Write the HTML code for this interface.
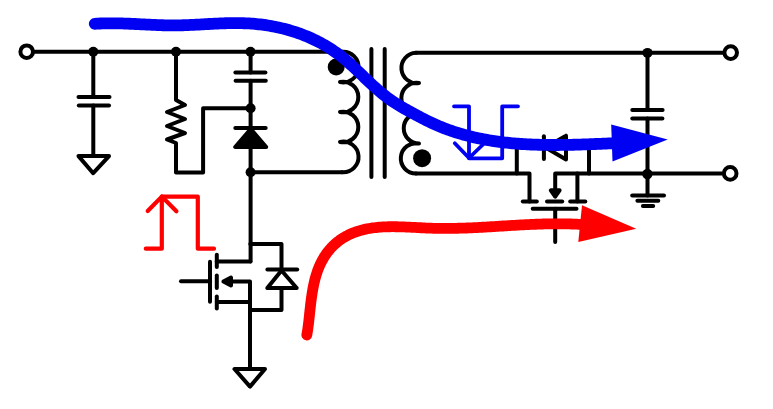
<!DOCTYPE html>
<html><head><meta charset="utf-8"><style>
html,body{margin:0;padding:0;background:#fff;}
svg{display:block;}
</style></head><body>
<svg width="773" height="409" viewBox="0 0 773 409">
<rect width="773" height="409" fill="#fff"/>
<g fill="none" stroke="#000" stroke-width="4.0" stroke-linecap="round" stroke-linejoin="round">
<polyline points="33,51.8 342,51.8"/>
<circle cx="26.7" cy="51.7" r="6.3" fill="#fff"/>
<circle cx="93.3" cy="51.8" r="5" fill="#000" stroke="none"/>
<circle cx="176" cy="51.8" r="5" fill="#000" stroke="none"/>
<circle cx="250.5" cy="51.8" r="5" fill="#000" stroke="none"/>
<polyline points="93.3,51.8 93.3,97.1"/>
<polyline points="78.5,97.1 109.5,97.1"/>
<polyline points="78.8,105.6 109,105.6"/>
<polyline points="93.3,105.6 93.3,156"/>
<polyline points="78.5,156.1 109,156.1 93.2,173.2 78.5,156.1"/>
<polyline points="176,51.8 176,100 185,105 167,112 185,119 167,126 185,133 167,139.5 176,143 176,172.4 203.1,172.4 203.1,108.2 250.6,108.2"/>
<polyline points="250.6,51.8 250.6,72.4"/>
<polyline points="235.4,72.4 265.4,72.4"/>
<polyline points="235.6,80.7 265.8,80.7"/>
<polyline points="250.6,80.7 250.6,128"/>
<circle cx="250.6" cy="108.2" r="5" fill="#000" stroke="none"/>
<polyline points="235.3,128.1 265.7,128.1"/>
<polygon points="235.2,147 266.2,147 250.7,129" fill="#000"/>
<polyline points="250.6,147 250.6,261.4"/>
<circle cx="250.6" cy="172.2" r="5" fill="#000" stroke="none"/>
<polyline points="250.6,172.2 342,172.2"/>
<path d="M342,51.8 A15.3,15.3 0 1 1 340,82 A15.3,15.3 0 1 1 340,112 A15.3,15.3 0 1 1 340,142 A15.3,15.3 0 1 1 342,172.2" fill="none"/>
<circle cx="336.2" cy="67.1" r="8.5" fill="#000" stroke="none"/>
<polyline points="371.4,49 371.4,177"/>
<polyline points="384.7,49 384.7,177"/>
<path d="M416,52.8 A15.2,15.2 0 1 0 419,83 A15.2,15.2 0 1 0 419,113 A15.2,15.2 0 1 0 419,143.5 A15.2,15.2 0 1 0 416,173.6" fill="none"/>
<circle cx="422.1" cy="158.2" r="9" fill="#000" stroke="none"/>
<polyline points="416,52.8 723.5,52.8"/>
<circle cx="647.5" cy="52.9" r="5" fill="#000" stroke="none"/>
<circle cx="730.7" cy="52.6" r="6.3" fill="#fff"/>
<polyline points="647.5,52.9 647.5,110"/>
<polyline points="632.3,110 662.6,110"/>
<polyline points="632.3,118.5 662.4,118.5"/>
<polyline points="647.5,118.5 647.5,195.6"/>
<polyline points="632.2,195.6 664,195.6"/>
<polyline points="637.4,200.8 658.3,200.8"/>
<polyline points="642.9,206 653.2,206"/>
<polyline points="416,173.6 529.5,173.6 529.5,201.5"/>
<polyline points="555.2,196 555.2,173.6 722.5,173.6"/>
<circle cx="647.4" cy="174" r="5.2" fill="#000" stroke="none"/>
<circle cx="730.2" cy="173.4" r="6.3" fill="#fff"/>
<polyline points="516.8,173.6 516.8,143.5 544,143.5"/>
<polyline points="566,143.5 589,143.5 589,173.6"/>
<polyline points="543.9,136.2 543.9,159"/>
<polyline points="566,135.8 566,159.5 545.5,147.6 566,135.8"/>
<polyline points="577.4,173.6 577.4,201.5"/>
<polyline points="522.8,201.5 536.8,201.5"/>
<polyline points="547,201.5 562.2,201.5"/>
<polyline points="570.2,201.5 585.3,201.5"/>
<polyline points="532.7,208.7 576.5,208.7"/>
<polyline points="555.2,208.7 555.2,242"/>
<polygon points="550.8,190.3 559.6,190.3 555.2,196.6" fill="#000"/>
<polyline points="181,281.3 210,281.3"/>
<polyline points="210,261.8 210,301.7"/>
<polyline points="216.8,254.8 216.8,266.9"/>
<polyline points="216.8,275.5 216.8,288"/>
<polyline points="216.8,296.5 216.8,308.5"/>
<polyline points="216.8,261.4 250.3,261.4"/>
<polyline points="228,281.6 250,281.6 250,369"/>
<polyline points="216.8,302 250,302"/>
<polygon points="223.4,281.6 231,277.6 231,285.6" fill="#000"/>
<polyline points="250.3,244 281.5,244 281.5,269.6"/>
<polyline points="281.5,288 281.5,309.9 250.3,309.9"/>
<polyline points="267.4,269.6 297.2,269.6"/>
<polyline points="267.3,288 296.7,288 281.5,270.5 267.3,288"/>
<polyline points="234.5,369 265,369 250,386.6 234.5,369"/>
</g>
<g fill="none" stroke="#0000f2" stroke-width="3.8" stroke-linecap="round" stroke-linejoin="round">
<polyline points="454,106.3 469,106.3 469,158.3 502.2,158.3 502.2,106.3 518,106.3"/>
<polyline points="454.8,143.3 469,158 483,144.5"/>
</g>
<g fill="none" stroke="#ff0000" stroke-width="4.2" stroke-linecap="round" stroke-linejoin="round">
<polyline points="145.8,248.7 161.8,248.7 161.8,196.6 197.8,196.6 197.8,248.7 214,248.7"/>
<polyline points="147.7,211 161.8,196.6 176.4,211.2"/>
</g>
<path d="M94.76,23.81 L96.61,23.69 L98.46,23.59 L100.31,23.51 L102.16,23.44 L104.00,23.38 L105.85,23.34 L107.69,23.31 L109.54,23.30 L111.38,23.29 L113.22,23.30 L115.06,23.31 L116.90,23.34 L118.74,23.38 L120.58,23.42 L122.42,23.47 L124.26,23.53 L126.09,23.60 L127.93,23.67 L129.76,23.74 L131.60,23.83 L133.43,23.91 L135.27,24.00 L137.10,24.09 L138.93,24.18 L140.77,24.27 L142.60,24.37 L144.43,24.46 L146.27,24.55 L148.10,24.64 L149.93,24.73 L151.77,24.82 L153.60,24.90 L155.43,24.98 L157.27,25.06 L159.10,25.13 L160.93,25.19 L162.77,25.24 L164.60,25.29 L166.44,25.33 L168.27,25.37 L170.11,25.39 L171.94,25.40 L173.78,25.40 L175.62,25.39 L177.46,25.37 L179.30,25.34 L181.14,25.30 L182.98,25.25 L184.82,25.20 L186.66,25.13 L188.50,25.06 L190.34,24.98 L192.18,24.89 L194.03,24.81 L195.87,24.71 L197.71,24.62 L199.56,24.52 L201.40,24.42 L203.25,24.32 L205.09,24.21 L206.94,24.11 L208.78,24.01 L210.63,23.91 L212.47,23.81 L214.32,23.72 L216.17,23.63 L218.01,23.54 L219.86,23.46 L221.70,23.39 L223.55,23.32 L225.39,23.26 L227.24,23.21 L229.09,23.17 L230.93,23.13 L232.78,23.11 L234.62,23.10 L236.47,23.10 L238.31,23.11 L240.15,23.14 L242.00,23.17 L243.84,23.23 L245.68,23.30 L247.53,23.38 L249.37,23.48 L251.21,23.60 L253.05,23.74 L254.89,23.89 L256.73,24.07 L258.57,24.26 L260.41,24.47 L262.24,24.69 L264.07,24.94 L265.90,25.20 L267.73,25.48 L269.55,25.78 L271.37,26.09 L273.19,26.43 L275.00,26.78 L276.81,27.16 L278.62,27.55 L280.42,27.95 L282.21,28.38 L284.00,28.83 L285.78,29.29 L287.56,29.77 L289.33,30.28 L291.10,30.80 L292.86,31.34 L294.61,31.89 L296.36,32.47 L298.10,33.07 L299.83,33.68 L301.55,34.31 L303.26,34.97 L304.97,35.64 L306.67,36.33 L308.36,37.04 L310.03,37.77 L311.70,38.51 L313.36,39.28 L315.01,40.07 L316.65,40.87 L318.28,41.70 L319.90,42.55 L321.51,43.41 L323.10,44.29 L324.69,45.20 L326.26,46.12 L327.82,47.06 L329.37,48.03 L330.90,49.01 L332.42,50.01 L333.93,51.03 L335.42,52.08 L336.91,53.14 L338.37,54.22 L339.82,55.32 L341.26,56.44 L342.69,57.58 L344.10,58.74 L345.50,59.92 L346.89,61.10 L348.27,62.31 L349.64,63.52 L351.00,64.75 L352.36,65.99 L353.71,67.23 L355.05,68.49 L356.39,69.75 L357.72,71.01 L359.05,72.29 L360.38,73.56 L361.71,74.84 L363.03,76.11 L364.36,77.39 L365.69,78.67 L367.02,79.94 L368.35,81.21 L369.69,82.48 L371.03,83.73 L372.38,84.99 L373.73,86.23 L375.09,87.46 L376.46,88.69 L377.84,89.90 L379.23,91.10 L380.63,92.28 L382.03,93.45 L383.46,94.60 L384.89,95.73 L386.34,96.85 L387.81,97.94 L389.29,99.02 L390.78,100.07 L392.29,101.11 L393.81,102.12 L395.35,103.12 L396.90,104.10 L398.46,105.07 L400.03,106.02 L401.61,106.96 L403.20,107.89 L404.80,108.81 L406.41,109.72 L408.02,110.62 L409.64,111.52 L411.26,112.40 L412.89,113.28 L414.53,114.16 L416.16,115.04 L417.80,115.91 L419.45,116.77 L421.09,117.63 L422.74,118.48 L424.40,119.32 L426.06,120.16 L427.72,120.98 L429.39,121.79 L431.06,122.59 L432.74,123.37 L434.42,124.14 L436.11,124.89 L437.80,125.63 L439.49,126.35 L441.19,127.05 L442.90,127.73 L444.61,128.40 L446.33,129.05 L448.05,129.69 L449.77,130.31 L451.50,130.91 L453.24,131.50 L454.98,132.07 L456.72,132.63 L458.47,133.17 L460.22,133.69 L461.97,134.21 L463.73,134.70 L465.49,135.19 L467.26,135.66 L469.03,136.11 L470.80,136.55 L472.58,136.98 L474.36,137.39 L476.14,137.79 L477.93,138.18 L479.72,138.55 L481.52,138.91 L483.31,139.26 L485.11,139.60 L486.92,139.92 L488.72,140.23 L490.53,140.53 L492.34,140.82 L494.15,141.10 L495.97,141.37 L497.79,141.62 L499.61,141.86 L501.43,142.10 L503.26,142.32 L505.08,142.53 L506.91,142.73 L508.74,142.92 L510.58,143.11 L512.41,143.28 L514.25,143.44 L516.09,143.59 L517.93,143.74 L519.77,143.87 L521.61,144.00 L523.45,144.12 L525.30,144.23 L527.14,144.33 L528.99,144.42 L530.84,144.51 L532.69,144.59 L534.54,144.66 L536.39,144.72 L538.24,144.77 L540.09,144.82 L541.95,144.87 L543.80,144.90 L545.65,144.93 L547.51,144.96 L549.36,144.97 L551.21,144.98 L553.07,144.99 L554.92,144.99 L556.77,144.99 L558.63,144.98 L560.48,144.96 L562.33,144.94 L564.19,144.92 L566.04,144.89 L567.89,144.86 L569.74,144.82 L571.59,144.78 L573.44,144.74 L575.29,144.69 L577.13,144.64 L578.98,144.59 L580.82,144.53 L582.67,144.47 L584.51,144.41 L586.35,144.35 L588.19,144.28 L590.03,144.21 L591.86,144.14 L593.70,144.07 L595.53,144.00 L597.36,143.92 L599.19,143.85 L601.02,143.77 L602.84,143.70 L604.66,143.62 L606.48,143.54 L608.30,143.47 L610.12,143.39 L611.93,143.31" fill="none" stroke="#0000f2" stroke-width="11.8" stroke-linecap="round" stroke-linejoin="round"/>
<polygon points="611.2,124.4 667.7,139.5 612.5,161.4" fill="#0000f2"/>
<path d="M306.80,335.01 L307.08,333.47 L307.34,331.90 L307.59,330.31 L307.83,328.70 L308.05,327.07 L308.27,325.42 L308.48,323.75 L308.68,322.06 L308.88,320.36 L309.07,318.64 L309.26,316.91 L309.45,315.16 L309.63,313.41 L309.82,311.64 L310.01,309.86 L310.21,308.08 L310.41,306.29 L310.62,304.49 L310.83,302.69 L311.06,300.89 L311.29,299.08 L311.54,297.28 L311.80,295.47 L312.07,293.67 L312.36,291.86 L312.67,290.06 L312.99,288.27 L313.34,286.48 L313.70,284.70 L314.09,282.93 L314.50,281.17 L314.94,279.42 L315.40,277.68 L315.89,275.95 L316.42,274.24 L316.97,272.54 L317.55,270.86 L318.16,269.20 L318.81,267.56 L319.50,265.93 L320.22,264.33 L320.98,262.75 L321.78,261.20 L322.61,259.67 L323.49,258.16 L324.40,256.68 L325.34,255.23 L326.32,253.81 L327.34,252.42 L328.39,251.07 L329.48,249.74 L330.60,248.45 L331.76,247.19 L332.95,245.97 L334.17,244.79 L335.42,243.65 L336.71,242.54 L338.03,241.48 L339.38,240.46 L340.76,239.47 L342.17,238.53 L343.61,237.64 L345.07,236.78 L346.55,235.96 L348.06,235.18 L349.59,234.44 L351.13,233.74 L352.70,233.08 L354.28,232.46 L355.87,231.88 L357.48,231.34 L359.10,230.83 L360.73,230.36 L362.37,229.92 L364.03,229.51 L365.70,229.14 L367.38,228.80 L369.06,228.49 L370.76,228.21 L372.47,227.96 L374.19,227.73 L375.92,227.53 L377.65,227.36 L379.39,227.21 L381.14,227.08 L382.90,226.97 L384.67,226.88 L386.44,226.82 L388.21,226.77 L389.99,226.74 L391.78,226.72 L393.57,226.72 L395.37,226.73 L397.17,226.76 L398.97,226.79 L400.78,226.84 L402.59,226.90 L404.40,226.97 L406.22,227.04 L408.03,227.12 L409.85,227.20 L411.67,227.29 L413.48,227.38 L415.30,227.48 L417.12,227.57 L418.93,227.66 L420.75,227.76 L422.56,227.85 L424.37,227.93 L426.18,228.02 L427.98,228.09 L429.78,228.16 L431.58,228.22 L433.37,228.28 L435.16,228.32 L436.95,228.36 L438.73,228.39 L440.51,228.41 L442.28,228.42 L444.05,228.43 L445.82,228.43 L447.59,228.43 L449.35,228.42 L451.11,228.40 L452.87,228.38 L454.62,228.35 L456.37,228.31 L458.12,228.27 L459.87,228.22 L461.61,228.17 L463.36,228.12 L465.10,228.06 L466.83,228.00 L468.57,227.93 L470.30,227.85 L472.04,227.78 L473.77,227.70 L475.50,227.62 L477.23,227.53 L478.95,227.44 L480.68,227.35 L482.40,227.26 L484.13,227.16 L485.85,227.06 L487.57,226.96 L489.29,226.86 L491.01,226.76 L492.74,226.65 L494.46,226.55 L496.18,226.44 L497.90,226.33 L499.62,226.23 L501.34,226.12 L503.05,226.01 L504.78,225.90 L506.50,225.80 L508.22,225.69 L509.94,225.59 L511.66,225.48 L513.38,225.38 L515.11,225.28 L516.83,225.18 L518.56,225.08 L520.29,224.98 L522.01,224.89 L523.74,224.79 L525.48,224.71 L527.21,224.62 L528.94,224.54 L530.68,224.46 L532.42,224.38 L534.16,224.31 L535.90,224.24 L537.64,224.17 L539.39,224.11 L541.14,224.06 L542.89,224.01 L544.65,223.96 L546.40,223.92 L548.16,223.88 L549.93,223.85 L551.69,223.83 L553.46,223.81 L555.23,223.79 L557.01,223.79 L558.79,223.79 L560.57,223.80 L562.36,223.81 L564.15,223.83 L565.94,223.86 L567.74,223.89 L569.54,223.94 L571.35,223.99 L573.16,224.05 L574.97,224.12 L576.79,224.20 L578.61,224.28 L580.44,224.38 L582.27,224.48" fill="none" stroke="#ff0000" stroke-width="10.8" stroke-linecap="round" stroke-linejoin="round"/>
<polygon points="582,205.3 636.2,228.7 578.3,241.9" fill="#ff0000"/>
</svg>
</body></html>
